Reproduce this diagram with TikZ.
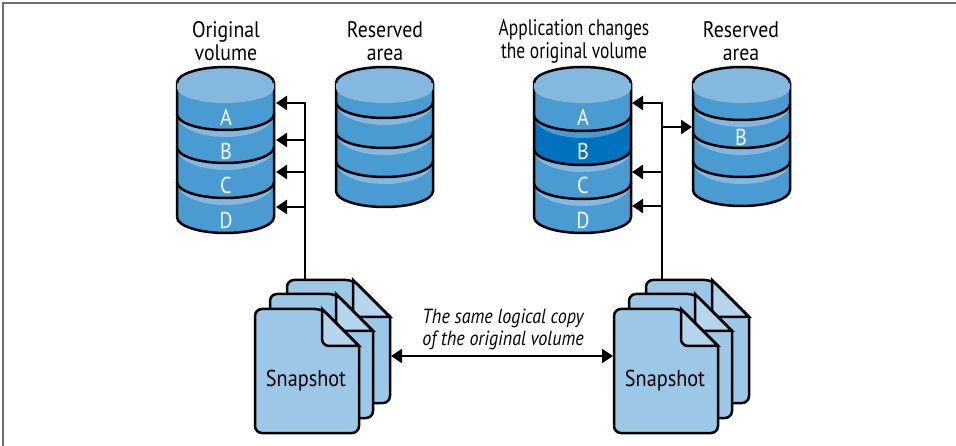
\documentclass[tikz,border=0pt]{standalone}
\usepackage{fontspec}
\setmainfont[FakeStretch=0.775]{PT Sans}
\newfontfamily\widerfont[FakeStretch=0.88]{PT Sans}
\usetikzlibrary{arrows.meta}
\definecolor{drumbody}{HTML}{4A9BD1}
\definecolor{drumlight}{HTML}{85B8DE}
\definecolor{drumdark}{HTML}{0071BC}
\definecolor{docfill}{HTML}{9CC7E7}
\definecolor{docfold}{HTML}{B5D5EC}
\definecolor{framegray}{HTML}{707070}
\tikzset{
  outline/.style={line width=2.5pt, black},
  link/.style={line width=2.5pt, black, -{Triangle[length=11pt,width=14pt]}},
  twolink/.style={line width=2.5pt, black, {Triangle[length=11pt,width=14pt]}-{Triangle[length=11pt,width=14pt]}},
  heading/.style={align=center, font=\widerfont\fontsize{22.5}{23}\selectfont},
  narrowhead/.style={align=center, font=\fontsize{22.5}{23}\selectfont},
  drumtext/.style={white, font=\widerfont\fontsize{23}{23}\selectfont},
  doctext/.style={font=\widerfont\fontsize{23}{23}\selectfont},
  note/.style={align=center, font=\widerfont\itshape\fontsize{20.5}{22}\selectfont}
}
% one slice of a drum: left x, upper y, lower y, body colour, band colour
\newcommand{\drumslice}[5]{
  \fill[#4] (#1,#2) -- (#1,#3) arc[start angle=180,end angle=360,x radius=48.5pt,y radius=16pt] -- (#1+97,#2) -- cycle;
  \fill[#5] (#1,#2+1) arc[start angle=180,end angle=360,x radius=48.5pt,y radius=22pt] -- cycle;
  \draw[outline] (#1,#2) -- (#1,#3) arc[start angle=180,end angle=360,x radius=48.5pt,y radius=16pt] -- (#1+97,#2);
}
% lid of a drum: left x
\newcommand{\drumlid}[1]{
  \fill[drumbody] (#1,83) arc[start angle=180,end angle=360,x radius=48.5pt,y radius=16pt] -- cycle;
  \fill[drumlight] (#1,83) arc[start angle=180,end angle=0,x radius=48.5pt,y radius=16pt] -- (#1+97,88) arc[start angle=0,end angle=-180,x radius=48.5pt,y radius=15pt] -- cycle;
  \draw[outline] (#1,83) arc[start angle=180,end angle=0,x radius=48.5pt,y radius=16pt];
}
% one sheet: left x, top y, width, height
\newcommand{\sheet}[4]{
  \filldraw[outline, fill=docfill] (#1,#2+30) [rounded corners=7pt] -- (#1,#2) -- (#1+#3-37,#2) [sharp corners] -- (#1+#3,#2+37) [rounded corners=7pt] -- (#1+#3,#2+#4) -- (#1,#2+#4) -- cycle;
  \filldraw[outline, fill=docfold] (#1+#3-37,#2) [rounded corners=7pt] -- (#1+#3-37,#2+37) [sharp corners] -- (#1+#3,#2+37) -- cycle;
}
\begin{document}
\begin{tikzpicture}[x=1pt, y=-1pt]
\useasboundingbox (0,0) rectangle (956,446);
\draw[line width=1.4pt, framegray] (3,446) -- (3,3) -- (956,3);

%%% left side %%%
\drumslice{177}{182}{217}{drumbody}{drumlight}
\drumslice{177}{147}{182}{drumbody}{drumlight}
\drumslice{177}{114}{147}{drumbody}{drumlight}
\drumslice{177}{83}{114}{drumbody}{drumbody}
\drumlid{177}
\node[drumtext] (volA) at (226,117) {A};
\node[drumtext] (volB) at (226,151) {B};
\node[drumtext] (volC) at (226,185) {C};
\node[drumtext] (volD) at (226,220) {D};

\drumslice{336}{161}{191}{drumbody}{drumlight}
\drumslice{336}{132}{161}{drumbody}{drumlight}
\drumslice{336}{102}{132}{drumbody}{drumlight}
\drumslice{336}{83}{102}{drumbody}{drumbody}
\drumlid{336}

\sheet{287}{280}{103}{123}
\sheet{270}{294}{103}{124}
\sheet{255}{309}{104}{124}

\node[heading] (headvol) at (226,41) {Original\\volume};
\node[heading] (headres) at (385,41) {Reserved\\area};
\node[doctext] (snapA) at (306,381) {Snapshot};

%%% right side %%%
\drumslice{534}{183}{217}{drumbody}{drumlight}
\drumslice{534}{149}{183}{drumbody}{drumlight}
\drumslice{534}{115}{149}{drumdark}{drumbody}
\drumslice{534}{83}{115}{drumbody}{drumbody}
\drumlid{534}
\node[drumtext] (chgA) at (583,117) {A};
\node[drumtext] (chgB) at (583,151) {B};
\node[drumtext] (chgC) at (583,185) {C};
\node[drumtext] (chgD) at (583,220) {D};

\drumslice{693}{161}{190}{drumbody}{drumlight}
\drumslice{693}{132}{161}{drumbody}{drumlight}
\drumslice{693}{104}{132}{drumbody}{drumlight}
\drumslice{693}{83}{104}{drumbody}{drumbody}
\drumlid{693}
\node[drumtext] (resB) at (741,137) {B};

\sheet{646}{280}{103}{123}
\sheet{629}{294}{103}{124}
\sheet{614}{309}{104}{124}

\node[narrowhead] (headchg) at (574,41) {Application changes\\the original volume};
\node[heading] (headresb) at (741,41) {Reserved\\area};
\node[doctext] (snapB) at (665,381) {Snapshot};

%%% connectors %%%
\coordinate (stackA) at (305,281);
\coordinate (stackB) at (662,281);
\coordinate (stackAe) at (391,356);
\coordinate (stackBw) at (613,356);
\coordinate (tipA) at (276,103);
\coordinate (tipB) at (276,140);
\coordinate (tipC) at (276,172);
\coordinate (tipD) at (276,207);
\coordinate (tipE) at (632,103);
\coordinate (tipF) at (632,172);
\coordinate (tipG) at (632,206);
\coordinate (tipH) at (692,127);

\foreach \t in {tipA,tipB,tipC,tipD}
  \draw[link] (stackA) |- (\t);
\foreach \t in {tipE,tipF,tipG,tipH}
  \draw[link] (stackB) |- (\t);
\draw[twolink] (stackAe) -- (stackBw);
\node[note] (same) at (503,329) {The same logical copy\\of the original volume};

\end{tikzpicture}
\end{document}
